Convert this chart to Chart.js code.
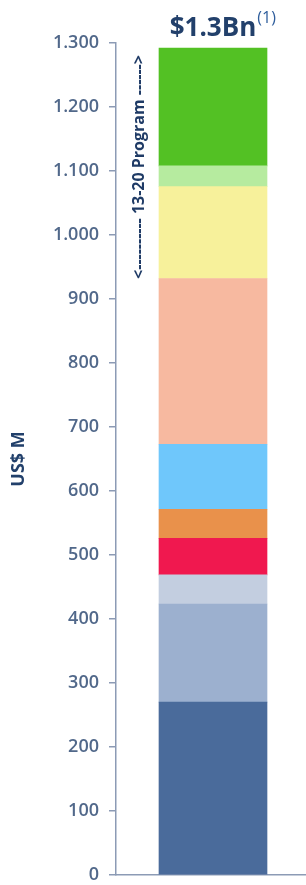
<!DOCTYPE html>
<html>
<head>
<meta charset="utf-8">
<script src="https://cdn.jsdelivr.net/npm/chart.js@4/dist/chart.umd.min.js"></script>
<style>
  html, body { margin: 0; padding: 0; background: #ffffff; overflow: hidden; }
  #wrap { width: 306px; height: 885px; position: relative; overflow: hidden; }
  canvas { display: block; }
</style>
</head>
<body>
<div id="wrap"><canvas id="c" width="310" height="885"></canvas></div>
<script>
// ---- data (bottom segment first) ----
const categories = [''];
const segNames = ['S1', 'S2', 'S3', 'S4', 'S5', 'S6', 'S7', 'S8', 'S9', 'S10'];
const seriesValues = [270, 153.5, 45.5, 57, 45.5, 101.5, 259, 143.5, 32.5, 184];
const segColors = ['#4a6b9b', '#9cb0cf', '#c3cee0', '#f0184f', '#e9914b',
                   '#6fc7fb', '#f7b9a0', '#f7f19b', '#b6eb9f', '#53c124'];
const yTickLabels = ['0', '100', '200', '300', '400', '500', '600', '700',
                     '800', '900', '1.000', '1.100', '1.200', '1.300'];
const titleText = '$1.3Bn';
const titleSup = '(1)';
const programText = '<---------- 13-20 Program ------>';
const yAxisTitle = 'US$ M';

const datasets = seriesValues.map((v, i) => ({
  label: segNames[i],
  data: [v],
  backgroundColor: segColors[i],
  borderWidth: 0,
  barThickness: 108
}));

const annotatePlugin = {
  id: 'annotate',
  afterDraw(chart) {
    const ctx = chart.ctx;
    const xs = chart.scales.x;
    const cx = xs.getPixelForValue(0);
    ctx.save();
    // title
    ctx.font = 'bold 26px "Open Sans"';
    ctx.fillStyle = '#22406b';
    ctx.textBaseline = 'alphabetic';
    ctx.textAlign = 'center';
    ctx.fillText(titleText, cx, 36);
    const w = ctx.measureText(titleText).width;
    ctx.font = '16px "Open Sans"';
    ctx.fillStyle = '#2e5d9c';
    ctx.textAlign = 'left';
    ctx.fillText(titleSup, cx + w / 2 + 1, 23);
    // rotated program label
    ctx.translate(139, 167);
    ctx.rotate(-Math.PI / 2);
    ctx.font = 'bold 16px "Open Sans"';
    ctx.fillStyle = '#1f3b66';
    ctx.textAlign = 'center';
    ctx.textBaseline = 'middle';
    ctx.fillText(programText, 0, 0);
    ctx.restore();
  }
};

new Chart(document.getElementById('c'), {
  type: 'bar',
  data: { labels: categories, datasets },
  options: {
    responsive: false,
    animation: false,
    devicePixelRatio: 1,
    layout: { padding: { top: 43, bottom: 10, left: 0, right: 0 } },
    plugins: { legend: { display: false }, tooltip: { enabled: false }, title: { display: false } },
    scales: {
      x: {
        stacked: true,
        afterFit(scale) { scale.height = 0; scale.paddingLeft = 0; scale.paddingRight = 0; },
        ticks: { display: false },
        grid: { display: false, drawTicks: false },
        border: { display: true, color: '#8c9bb5', width: 1.5 }
      },
      y: {
        stacked: true,
        min: 0,
        max: 1300,
        afterFit(scale) { scale.width = 116; scale.paddingTop = 0; scale.paddingBottom = 0; },
        ticks: {
          stepSize: 100,
          padding: 10,
          color: '#51688a',
          font: { family: 'Open Sans', size: 18, weight: '600' },
          callback: (v) => yTickLabels[Math.round(v / 100)]
        },
        grid: { drawOnChartArea: false, drawTicks: true, tickLength: 7, color: '#8c9bb5', lineWidth: 1.5 },
        border: { display: true, color: '#8c9bb5', width: 1.5 },
        title: {
          display: true,
          text: yAxisTitle,
          color: '#22406b',
          font: { family: 'Open Sans', size: 18, weight: 'bold' },
          padding: { top: 8, bottom: 0 }
        }
      }
    }
  },
  plugins: [annotatePlugin]
});
</script>
</body>
</html>
